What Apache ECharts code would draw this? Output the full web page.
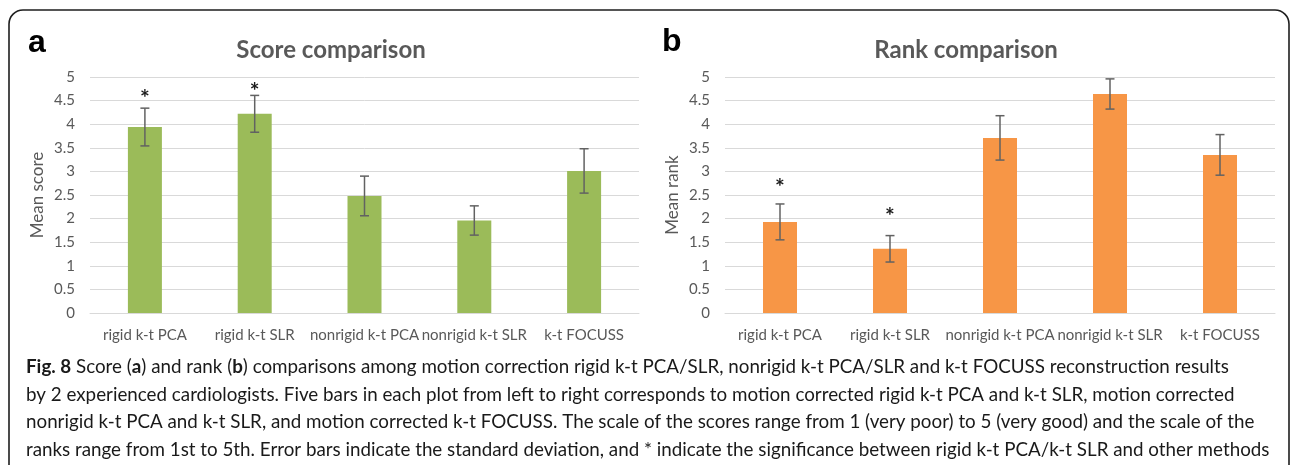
<!DOCTYPE html>
<html>
<head>
<meta charset="utf-8">
<script src="https://cdn.jsdelivr.net/npm/echarts@6/dist/echarts.min.js"></script>
<style>
  html, body { margin: 0; padding: 0; background: #fff; }
  #chart { width: 1290px; height: 465px; }
</style>
</head>
<body>
<div id="chart"></div>
<script>
// data
const categories = ['rigid k-t PCA', 'rigid k-t SLR', 'nonrigid k-t PCA', 'nonrigid k-t SLR', 'k-t FOCUSS'];
const scoreMeans = [3.94, 4.22, 2.48, 1.96, 3.01];
const scoreSD = [0.40, 0.39, 0.42, 0.31, 0.47];
const rankMeans = [1.93, 1.36, 3.71, 4.64, 3.35];
const rankSD = [0.38, 0.28, 0.47, 0.32, 0.43];
// height of the significance stars (in axis units)
const scoreStars = [4.67, 4.82, null, null, null];
const rankStars = [2.79, 2.16, null, null, null];
const yTickLabels = ['0', '0.5', '1', '1.5', '2', '2.5', '3', '3.5', '4', '4.5', '5'];

const captionLines = [
  '{b|Fig. 8} Score ({b|a}) and rank ({b|b}) comparisons among motion correction rigid k-t PCA/SLR, nonrigid k-t PCA/SLR and k-t FOCUSS reconstruction results',
  'by 2 experienced cardiologists. Five bars in each plot from left to right corresponds to motion corrected rigid k-t PCA and k-t SLR, motion corrected',
  'nonrigid k-t PCA and k-t SLR, and motion corrected k-t FOCUSS. The scale of the scores range from 1 (very poor) to 5 (very good) and the scale of the',
  'ranks range from 1st to 5th. Error bars indicate the standard deviation, and * indicate the significance between rigid k-t PCA/k-t SLR and other methods'
];

const FONT = 'Lato';
const TXT = '#595959';
const GRID_LINE = '#d9d9d9';

// fit the caption font so the longest line stays inside the frame
const ctx = document.createElement('canvas').getContext('2d');
ctx.font = '20px ' + FONT;
let widest = 0;
captionLines.forEach(l => {
  widest = Math.max(widest, ctx.measureText(l.replace(/\{b\|([^}]*)\}/g, '$1')).width);
});
const capSize = Math.floor(20 * 1248 / widest * 10) / 10;

function errData(means, sd) {
  return means.map((m, i) => [i, +(m - sd[i]).toFixed(2), +(m + sd[i]).toFixed(2)]);
}
function starData(stars) {
  return stars.map((v, i) => (v == null ? null : [i, v])).filter(d => d);
}

function errorBarItem(params, api) {
  const x = api.value(0);
  const lo = api.coord([x, api.value(1)]);
  const hi = api.coord([x, api.value(2)]);
  const c = 4.5;
  const st = { stroke: '#626262', lineWidth: 1.5 };
  return {
    type: 'group',
    children: [
      { type: 'line', shape: { x1: hi[0], y1: hi[1], x2: lo[0], y2: lo[1] }, style: st },
      { type: 'line', shape: { x1: hi[0] - c, y1: hi[1], x2: hi[0] + c, y2: hi[1] }, style: st },
      { type: 'line', shape: { x1: lo[0] - c, y1: lo[1], x2: lo[0] + c, y2: lo[1] }, style: st }
    ]
  };
}

function starItem(params, api) {
  const p = api.coord([api.value(0), api.value(1)]);
  return {
    type: 'text',
    x: p[0],
    y: p[1] + 6,
    style: {
      text: '*', font: 'bold 23px ' + FONT, fill: '#1a1a1a',
      align: 'center', verticalAlign: 'middle', textAlign: 'center', textVerticalAlign: 'middle'
    }
  };
}

function yAxis(idx, name) {
  return {
    type: 'value', gridIndex: idx, min: 0, max: 5, interval: 0.5,
    name: name, nameLocation: 'middle', nameGap: 44,
    nameTextStyle: { color: TXT, fontFamily: FONT, fontSize: 17 },
    axisLine: { show: false }, axisTick: { show: false },
    axisLabel: {
      color: TXT, fontFamily: FONT, fontSize: 15, margin: 15,
      formatter: (v) => yTickLabels[Math.round(v * 2)]
    },
    splitLine: { lineStyle: { color: GRID_LINE, width: 1 } }
  };
}

function xAxis(idx) {
  return {
    type: 'category', gridIndex: idx, data: categories,
    axisLine: { lineStyle: { color: GRID_LINE, width: 1 } },
    axisTick: { show: false },
    axisLabel: { color: TXT, fontFamily: FONT, fontSize: 15, margin: 15, interval: 0 }
  };
}

function barSeries(idx, values, color) {
  return {
    type: 'bar', xAxisIndex: idx, yAxisIndex: idx, data: values,
    barWidth: 34, itemStyle: { color: color }, silent: true
  };
}

const chart = echarts.init(document.getElementById('chart'), null, { renderer: 'canvas' });

const option = {
  animation: false,
  backgroundColor: '#fff',
  title: [
    {
      text: 'Score comparison', left: 331, top: 35, textAlign: 'center', padding: 0,
      textStyle: { color: TXT, fontFamily: FONT, fontSize: 24, fontWeight: 'bold', lineHeight: 30 }
    },
    {
      text: 'Rank comparison', left: 966, top: 35, textAlign: 'center', padding: 0,
      textStyle: { color: TXT, fontFamily: FONT, fontSize: 24, fontWeight: 'bold', lineHeight: 30 }
    }
  ],
  grid: [
    { left: 90, top: 77, width: 549, height: 236 },
    { left: 725, top: 77, width: 550, height: 236 }
  ],
  xAxis: [xAxis(0), xAxis(1)],
  yAxis: [yAxis(0, 'Mean score'), yAxis(1, 'Mean rank')],
  series: [
    barSeries(0, scoreMeans, '#9bbb59'),
    barSeries(1, rankMeans, '#f79646'),
    {
      type: 'custom', xAxisIndex: 0, yAxisIndex: 0, renderItem: errorBarItem,
      data: errData(scoreMeans, scoreSD), encode: { x: 0, y: [1, 2] }, z: 5, silent: true
    },
    {
      type: 'custom', xAxisIndex: 1, yAxisIndex: 1, renderItem: errorBarItem,
      data: errData(rankMeans, rankSD), encode: { x: 0, y: [1, 2] }, z: 5, silent: true
    },
    {
      type: 'custom', xAxisIndex: 0, yAxisIndex: 0, renderItem: starItem,
      data: starData(scoreStars), encode: { x: 0, y: 1 }, z: 6, silent: true
    },
    {
      type: 'custom', xAxisIndex: 1, yAxisIndex: 1, renderItem: starItem,
      data: starData(rankStars), encode: { x: 0, y: 1 }, z: 6, silent: true
    }
  ],
  graphic: [
    {
      type: 'rect', silent: true, z: 10,
      shape: { x: 9, y: 10, width: 1280, height: 490, r: 14 },
      style: { fill: 'none', stroke: '#1e1e1e', lineWidth: 1.6 }
    },
    {
      type: 'text', x: 28, y: 59, z: 10,
      style: { text: 'a', font: 'bold 32px "Liberation Sans"', fill: '#000', verticalAlign: 'bottom' }
    },
    {
      type: 'text', x: 662, y: 58, z: 10,
      style: { text: 'b', font: 'bold 32px "Liberation Sans"', fill: '#000', verticalAlign: 'bottom' }
    }
  ].concat(captionLines.map((line, i) => ({
    type: 'text', x: 26, y: 367 + i * 27.5, z: 10,
    style: {
      text: line, fill: '#1a1a1a', fontFamily: FONT, fontSize: capSize,
      verticalAlign: 'middle',
      rich: { b: { fontWeight: 'bold', fontFamily: FONT, fontSize: capSize, fill: '#1a1a1a' } }
    }
  })))
};

chart.setOption(option);
window.addEventListener('resize', () => chart.resize());
</script>
</body>
</html>
